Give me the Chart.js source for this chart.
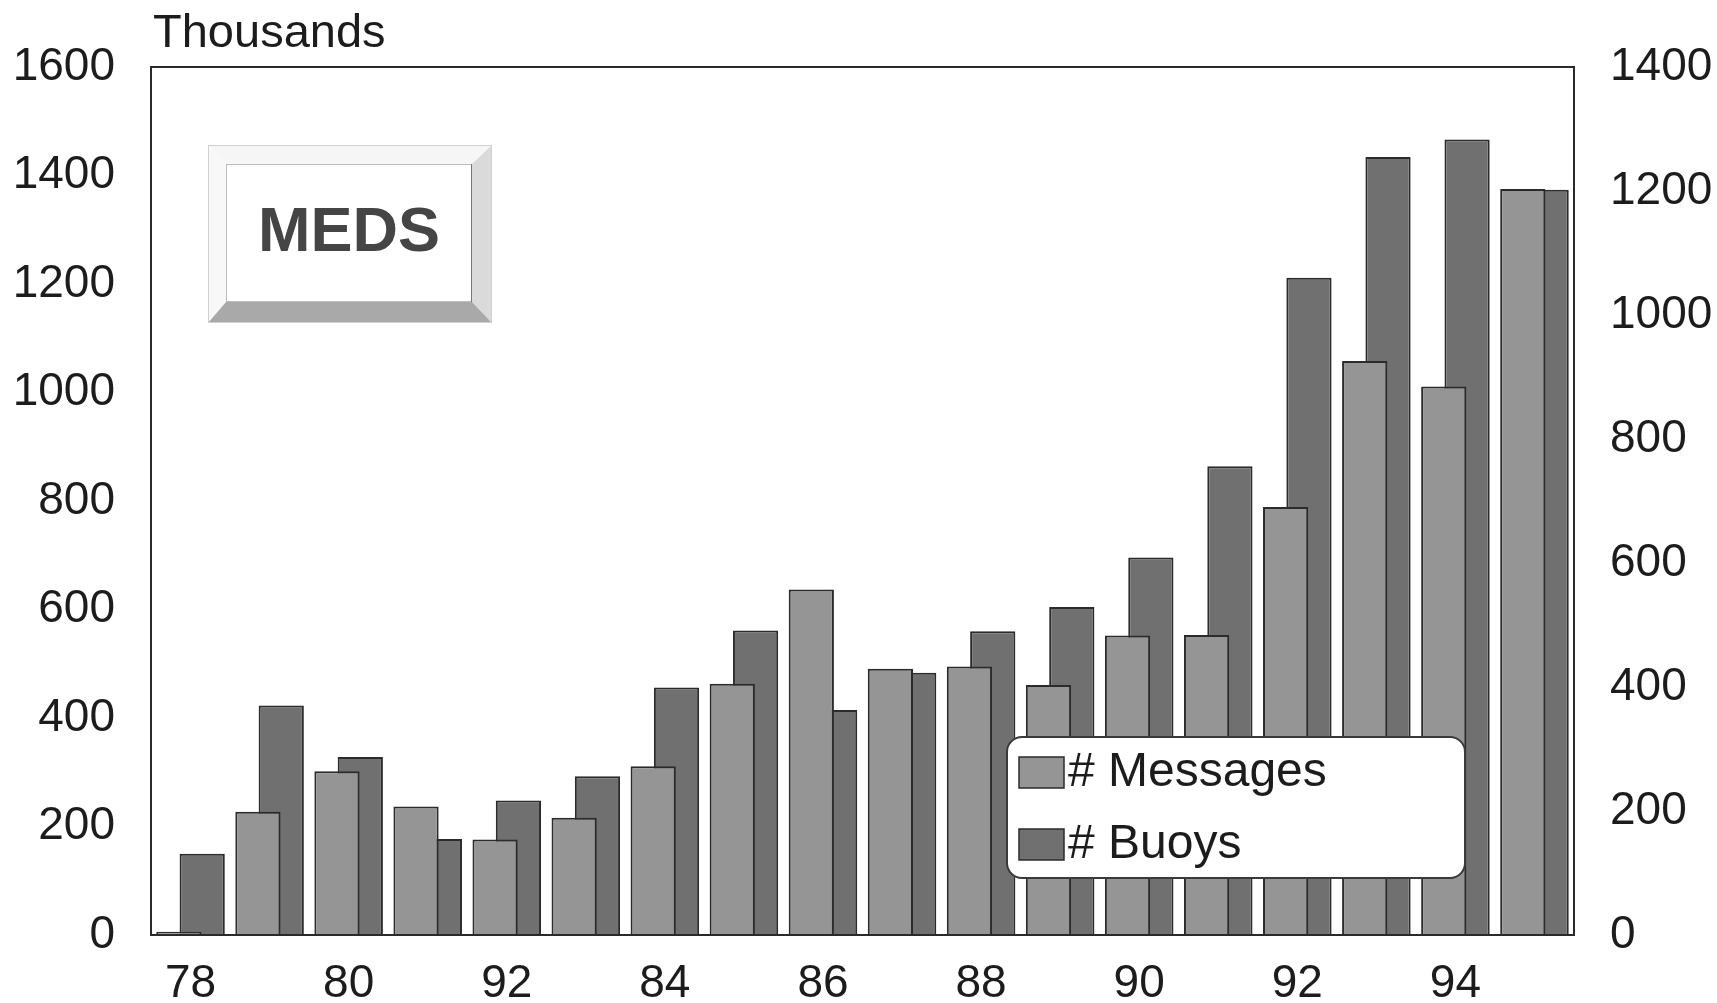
<!DOCTYPE html>
<html>
<head>
<meta charset="utf-8">
<title>MEDS</title>
<script src="https://cdn.jsdelivr.net/npm/chart.js@4.4.1/dist/chart.umd.min.js"></script>
<style>
  html, body { margin: 0; padding: 0; background: #ffffff; }
  .wrap { position: relative; width: 1717px; height: 1003px; }
</style>
</head>
<body>
<div class="wrap"><canvas id="chart"></canvas></div>
<script>
"use strict";

// years on the x axis, and the labels printed under every second bar
const years = ["78", "79", "80", "81", "82", "83", "84", "85", "86", "87", "88", "89", "90", "91", "92", "93", "94", "95"];
const tickLabels = ["78", "", "80", "", "92", "", "84", "", "86", "", "88", "", "90", "", "92", "", "94", ""];

// messages (thousands, left axis) and buoys (right axis)
const messages = [6, 227, 302, 237, 176, 216, 311, 463, 637, 491, 495, 461, 552, 553, 789, 1058, 1011, 1375];
const buoys = [131, 370, 287, 155, 217, 256, 399, 491, 363, 423, 490, 529, 609, 756, 1060, 1255, 1283, 1202];

const leftTicks = [0, 200, 400, 600, 800, 1000, 1200, 1400, 1600];
const rightTicks = [0, 200, 400, 600, 800, 1000, 1200, 1400];

const FONT = "'Liberation Sans', Arial, Helvetica, sans-serif";
const INK = "#1c1c1c";
const colMessages = "#959595";
const colBuoys = "#707070";
const colEdge = "#2b2b2b";

// frame around the plot area
const framePlugin = {
  id: "frame",
  afterDatasetsDraw(chart) {
    const { ctx, chartArea: a } = chart;
    ctx.save();
    ctx.strokeStyle = "#2a2a2a";
    ctx.lineWidth = 2;
    ctx.strokeRect(a.left, a.top, a.right - a.left, a.bottom - a.top);
    ctx.restore();
  },
};

// "Thousands" caption over the left axis
const captionPlugin = {
  id: "caption",
  afterDraw(chart) {
    const { ctx, chartArea: a } = chart;
    ctx.save();
    ctx.fillStyle = INK;
    ctx.font = "47px " + FONT;
    ctx.textAlign = "left";
    ctx.textBaseline = "alphabetic";
    ctx.fillText("Thousands", a.left + 2, 47);
    ctx.restore();
  },
};

// bevelled MEDS badge
const badgePlugin = {
  id: "badge",
  afterDraw(chart) {
    const ctx = chart.ctx;
    const o = { l: 208, t: 145, r: 492, b: 323 };
    const i = { l: 226, t: 164, r: 472, b: 302 };
    ctx.save();
    const face = (pts, fill) => {
      ctx.beginPath();
      ctx.moveTo(pts[0][0], pts[0][1]);
      for (let k = 1; k < pts.length; k++) ctx.lineTo(pts[k][0], pts[k][1]);
      ctx.closePath();
      ctx.fillStyle = fill;
      ctx.fill();
    };
    face([[o.l, o.t], [o.r, o.t], [i.r, i.t], [i.l, i.t]], "#f6f6f6");
    face([[o.l, o.t], [i.l, i.t], [i.l, i.b], [o.l, o.b]], "#f8f8f8");
    face([[o.r, o.t], [o.r, o.b], [i.r, i.b], [i.r, i.t]], "#dadada");
    face([[o.l, o.b], [i.l, i.b], [i.r, i.b], [o.r, o.b]], "#a9a9a9");
    ctx.fillStyle = "#ffffff";
    ctx.fillRect(i.l, i.t, i.r - i.l, i.b - i.t);
    ctx.lineWidth = 1;
    ctx.strokeStyle = "#bdbdbd";
    ctx.strokeRect(i.l + 0.5, i.t + 0.5, i.r - i.l - 1, i.b - i.t - 1);
    ctx.strokeStyle = "#777777";
    ctx.beginPath();
    ctx.moveTo(i.r - 0.5, i.t);
    ctx.lineTo(i.r - 0.5, i.b);
    ctx.stroke();
    ctx.strokeStyle = "#d0d0d0";
    ctx.strokeRect(o.l + 0.5, o.t + 0.5, o.r - o.l - 1, o.b - o.t - 1);
    ctx.fillStyle = "#454545";
    ctx.font = "bold 63px " + FONT;
    ctx.textAlign = "center";
    ctx.textBaseline = "middle";
    ctx.fillText("MEDS", (i.l + i.r) / 2, (i.t + i.b) / 2 + 1);
    ctx.restore();
  },
};

// rounded legend box drawn inside the plot
const legendPlugin = {
  id: "boxLegend",
  afterDatasetsDraw(chart) {
    const ctx = chart.ctx;
    const x = 1007, y = 737, w = 458, h = 141, r = 15;
    ctx.save();
    ctx.beginPath();
    ctx.roundRect(x, y, w, h, r);
    ctx.fillStyle = "#ffffff";
    ctx.fill();
    ctx.lineWidth = 2;
    ctx.strokeStyle = "#3a3a3a";
    ctx.stroke();
    ctx.font = "48px " + FONT;
    ctx.textAlign = "left";
    ctx.textBaseline = "alphabetic";
    chart.data.datasets.forEach((ds, k) => {
      const sy = 757 + k * 72;
      ctx.fillStyle = ds.backgroundColor;
      ctx.fillRect(1019, sy, 45, 31);
      ctx.lineWidth = 1.5;
      ctx.strokeStyle = colEdge;
      ctx.strokeRect(1019, sy, 45, 31);
      ctx.fillStyle = INK;
      ctx.fillText(ds.label, 1068, sy + 29);
    });
    ctx.restore();
  },
};

function render() {
  const ctx = document.getElementById("chart").getContext("2d");
  const data = {
    labels: years,
    datasets: [
      {
        label: "# Messages",
        data: messages,
        yAxisID: "y",
        backgroundColor: colMessages,
        borderColor: colEdge,
        borderWidth: 2,
        categoryPercentage: 0.59,
        barPercentage: 1.94,
      },
      {
        label: "# Buoys",
        data: buoys,
        yAxisID: "y1",
        backgroundColor: colBuoys,
        borderColor: colEdge,
        borderWidth: 2,
        categoryPercentage: 0.59,
        barPercentage: 1.94,
      },
    ],
  };

  const tickFont = { family: FONT, size: 46 };
  const config = {
    type: "bar",
    data: data,
    options: {
      responsive: true,
      maintainAspectRatio: false,
      animation: false,
      layout: { padding: { top: 67, left: 0, right: 0, bottom: 0 } },
      plugins: {
        legend: { display: false },
        tooltip: { enabled: false },
      },
      scales: {
        x: {
          grid: { display: false, drawTicks: false },
          border: { display: false },
          ticks: {
            autoSkip: false,
            maxRotation: 0,
            padding: 22,
            color: INK,
            font: tickFont,
            callback: (v, i) => tickLabels[i],
          },
          afterFit: (s) => { s.height = 68; },
        },
        y: {
          position: "left",
          min: leftTicks[0],
          max: leftTicks[leftTicks.length - 1],
          grid: { display: false, drawTicks: false },
          border: { display: false },
          afterBuildTicks: (s) => { s.ticks = leftTicks.map((v) => ({ value: v })); },
          ticks: { padding: 36, color: INK, font: tickFont, callback: (v) => String(v) },
          afterFit: (s) => { s.width = 151; },
        },
        y1: {
          position: "right",
          min: rightTicks[0],
          max: rightTicks[rightTicks.length - 1],
          grid: { display: false, drawTicks: false },
          border: { display: false },
          afterBuildTicks: (s) => { s.ticks = rightTicks.map((v) => ({ value: v })); },
          ticks: { padding: 36, color: INK, font: tickFont, callback: (v) => String(v) },
          afterFit: (s) => { s.width = 143; },
        },
      },
    },
    plugins: [framePlugin, legendPlugin, captionPlugin, badgePlugin],
  };
  return new Chart(ctx, config);
}

render();
</script>
</body>
</html>
